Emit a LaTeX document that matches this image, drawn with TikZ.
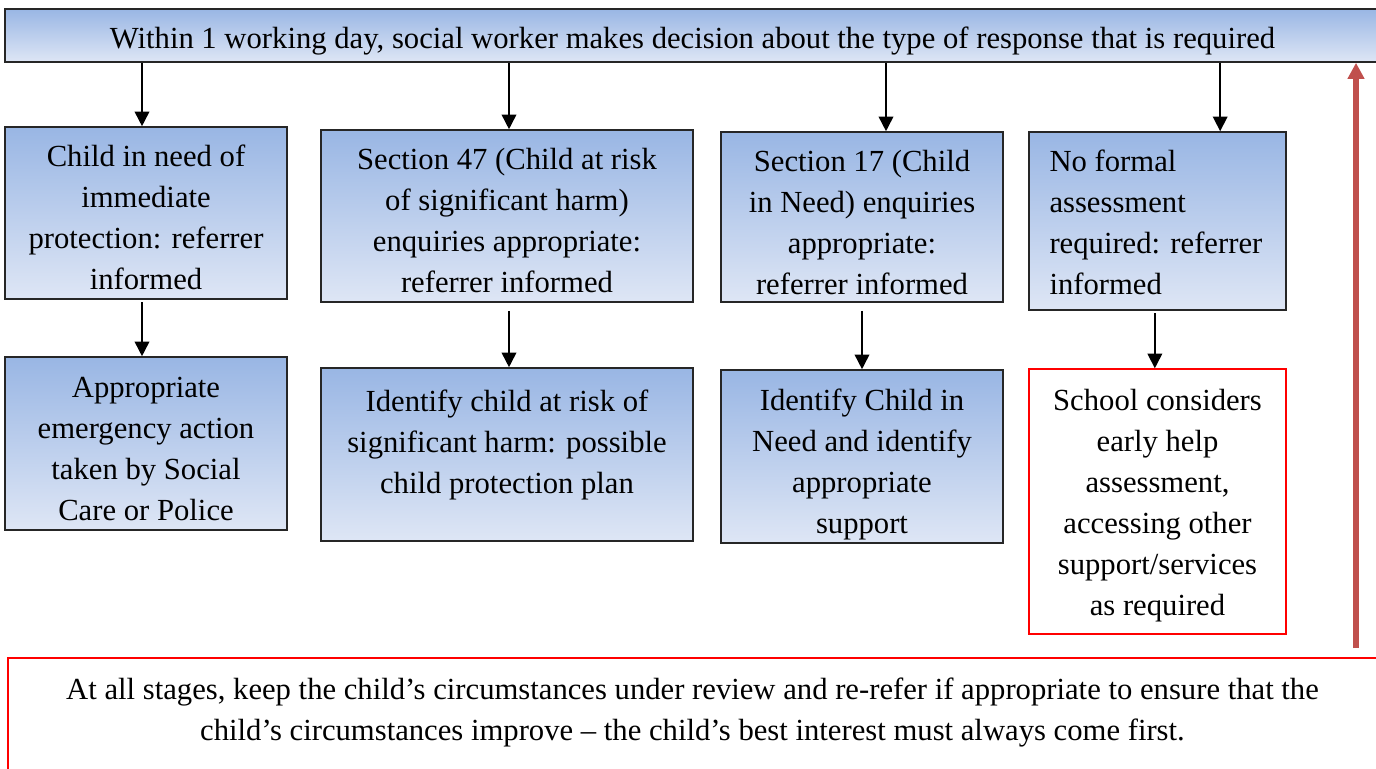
\documentclass[tikz,border=0pt]{standalone}
\usepackage{fontspec}
\setmainfont{Liberation Serif}
\usetikzlibrary{arrows.meta}
\definecolor{gtop}{RGB}{153,182,228}
\definecolor{gbot}{RGB}{222,230,245}
\definecolor{redarrow}{RGB}{192,80,77}
\definecolor{brightred}{RGB}{255,0,0}
\tikzset{
  boxtext/.style={font=\fontsize{23pt}{30.75pt}\selectfont, inner sep=0pt, align=center},
  bluebox/.style={draw=black!85, line width=1.2pt, top color=gtop, bottom color=gbot, inner sep=0pt},
  redbox/.style={draw=brightred, line width=1.1pt, fill=white, inner sep=0pt},
  arr/.style={-{Triangle[length=11pt,width=11pt]}, line width=1.25pt, black},
  redarr/.style={-{Triangle[length=12pt,width=12pt]}, line width=3.8pt, draw=redarrow, color=redarrow},
}
\begin{document}
\begin{tikzpicture}[x=0.75pt,y=-0.75pt]
\useasboundingbox (0,0) rectangle (1376,768);
% top decision box
\node[bluebox, minimum width=1031.25pt, minimum height=39.75pt] (top) at (692.5,35.5) {};
\node[boxtext] (toptext) at ([yshift=-4.5pt]top.center)
  {Within 1 working day, social worker makes decision about the type of response that is required};
% first row
\node[bluebox, minimum width=211.5pt, minimum height=129pt] (b1) at (146,213) {};
\node[boxtext] (b1text) at ([yshift=-3.4pt]b1.center)
  {Child in need of\\immediate\\protection: referrer\\informed};
\node[bluebox, minimum width=279pt, minimum height=129pt] (b2) at (507,216) {};
\node[boxtext] (b2text) at ([yshift=-3.75pt]b2.center)
  {Section 47 (Child at risk\\of\ significant harm)\\enquiries appropriate:\\referrer informed};
\node[bluebox, minimum width=211.5pt, minimum height=127.5pt] (b3) at (862,217) {};
\node[boxtext] (b3text) at ([yshift=-4.1pt]b3.center)
  {Section 17 (Child\\in Need) enquiries\\appropriate:\\referrer informed};
\node[bluebox, minimum width=192.75pt, minimum height=133.5pt] (b4) at (1157.5,221) {};
\node[boxtext, align=left] (b4text) at ([xshift=-1.2pt,yshift=-1.1pt]b4.center)
  {No formal\\assessment\\required: referrer\\informed};
% second row
\node[bluebox, minimum width=211.5pt, minimum height=129.75pt] (c1) at (146,443.5) {};
\node[boxtext] (c1text) at ([yshift=-3.75pt]c1.center)
  {Appropriate\\emergency action\\taken by Social\\Care or Police};
\node[bluebox, minimum width=279pt, minimum height=129.75pt] (c2) at (507,454.5) {};
\node[boxtext] (c2text) at ([yshift=7.1pt]c2.center)
  {Identify child at risk of\\significant harm: possible\\child protection plan};
\node[bluebox, minimum width=211.5pt, minimum height=129.75pt] (c3) at (862,456.5) {};
\node[boxtext] (c3text) at ([yshift=-5.6pt]c3.center)
  {Identify Child in\\Need and identify\\appropriate\\support};
\node[redbox, minimum width=192.75pt, minimum height=198.75pt] (c4) at (1157.5,501.5) {};
\node[boxtext] (c4text) at ([yshift=-3.4pt]c4.center)
  {School considers\\early help\\assessment,\\accessing other\\support/services\\as required};
% bottom review box
\node[draw=brightred, line width=1.5pt, fill=white, minimum width=1026.75pt, minimum height=99pt, inner sep=0pt] (bottombox) at (692.5,724) {};
\node[boxtext] (bottomtext) at (692.5,712)
  {At all stages, keep the child’s circumstances under review and re-refer if appropriate to ensure that the\\child’s circumstances improve – the child’s best interest must always come first.};
% arrows from the decision box
\draw[arr] ([xshift=-3pt]b1.north |- top.south) -- ([xshift=-3pt]b1.north);
\draw[arr] ([xshift=1.5pt]b2.north |- top.south) -- ([xshift=1.5pt]b2.north);
\draw[arr] ([xshift=18pt]b3.north |- top.south) -- ([xshift=18pt]b3.north);
\draw[arr] ([xshift=47pt]b4.north |- top.south) -- ([xshift=47pt]b4.north);
% arrows first row to second row
\draw[arr, shorten <=2pt] ([xshift=-3pt]b1.south) -- ([xshift=-3pt]c1.north);
\draw[arr, shorten <=6pt] ([xshift=1.5pt]b2.south) -- ([xshift=1.5pt]c2.north);
\draw[arr, shorten <=6pt] (b3.south) -- (c3.north);
\draw[arr, shorten <=2pt] ([xshift=-2pt]b4.south) -- ([xshift=-2pt]c4.north);
% red return arrow
\coordinate (redstart) at (1356,648);
\draw[redarr] (redstart) -- (redstart |- top.south);
\end{tikzpicture}
\end{document}
